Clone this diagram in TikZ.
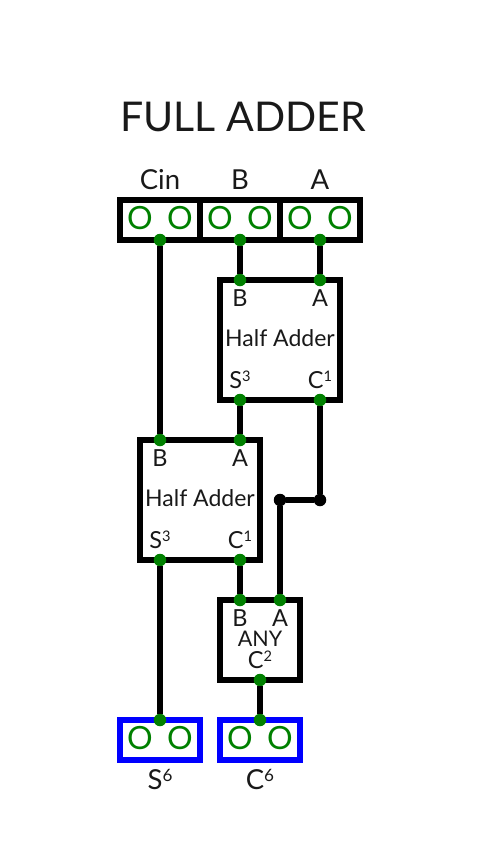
\documentclass[tikz,border=0pt]{standalone}
\usepackage{graphicx}
\usepackage{fontspec}
\setmainfont{Lato}
\newcommand{\upnum}[1]{\raisebox{0.29em}{\scalebox{0.62}{#1}}}
\tikzset{
    pindot/.style={circle, fill=green!50!black, inner sep=0pt, minimum size=12.5pt},
    joint/.style={circle, fill=black, inner sep=0pt, minimum size=12.5pt},
    wire/.style={line width=6pt},
    chip/.style={draw, line width=6pt, minimum width=120pt, minimum height=120pt, inner sep=0pt},
    cell/.style={draw, line width=6pt, minimum width=80pt, minimum height=40pt, inner sep=0pt},
    outcell/.style={cell, draw=blue},
    caption/.style={anchor=base, inner sep=0pt, text=black!90},
    bit/.style={anchor=base, inner sep=0pt, text=green!50!black, font=\fontsize{32}{32}\selectfont},
    bigtext/.style={caption, font=\fontsize{27.5}{28}\selectfont},
    smalltext/.style={caption, font=\fontsize{23.5}{24}\selectfont},
    chipname/.style={caption, font=\fontsize{23}{23}\selectfont}
}
\begin{document}
\begin{tikzpicture}[x=1pt, y=-1pt]
    \useasboundingbox (0,0) rectangle (487,860);
    % Title
    \node[caption, font=\fontsize{41}{41}\selectfont] (title) at (243,131) {FULL ADDER};

    % Input cells
    \node[cell] (cincell) at (160,220) {};
    \node[cell] (bcell) at (240,220) {};
    \node[cell] (acell) at (320,220) {};
    \node[bigtext] (cinlabel) at (160,189) {Cin};
    \node[bigtext] (blabel) at (240,189) {B};
    \node[bigtext] (alabel) at (320,189) {A};
    \node[bit] (cinzero) at (140,229) {O};
    \node[bit] (cinone) at (180,229) {O};
    \node[bit] (bzero) at (220,229) {O};
    \node[bit] (bone) at (260,229) {O};
    \node[bit] (azero) at (300,229) {O};
    \node[bit] (aone) at (340,229) {O};

    % Half adders and ANY
    \node[chip] (upper) at (280,340) {};
    \node[chip] (lower) at (200,500) {};
    \node[chip, minimum width=80pt, minimum height=80pt] (any) at (260,640) {};

    \node[smalltext] (upperb) at (240,306) {B};
    \node[smalltext] (uppera) at (320,306) {A};
    \node[chipname] (uppername) at (280,346) {Half Adder};
    \node[smalltext] (uppers) at (240,388) {S\upnum{3}};
    \node[smalltext] (upperc) at (320,388) {C\upnum{1}};

    \node[smalltext] (lowerb) at (160,466) {B};
    \node[smalltext] (lowera) at (240,466) {A};
    \node[chipname] (lowername) at (200,506) {Half Adder};
    \node[smalltext] (lowers) at (160,548) {S\upnum{3}};
    \node[smalltext] (lowerc) at (240,548) {C\upnum{1}};

    \node[smalltext] (anyb) at (240,626) {B};
    \node[smalltext] (anya) at (280,626) {A};
    \node[smalltext, font=\fontsize{21.5}{22}\selectfont] (anyname) at (260,646) {ANY};
    \node[smalltext] (anyc) at (260,668) {C\upnum{2}};

    % Output cells
    \node[outcell] (scell) at (160,740) {};
    \node[outcell] (ccell) at (260,740) {};
    \node[bit] (szero) at (140,749) {O};
    \node[bit] (sone) at (180,749) {O};
    \node[bit] (czero) at (240,749) {O};
    \node[bit] (cone) at (280,749) {O};
    \node[bigtext] (slabel) at (160,789) {S\upnum{6}};
    \node[bigtext] (clabel) at (260,789) {C\upnum{6}};

    % Pins
    \node[pindot] (cinout) at (160,240) {};
    \node[pindot] (bout) at (240,240) {};
    \node[pindot] (aout) at (320,240) {};
    \node[pindot] (upperbin) at (240,280) {};
    \node[pindot] (upperain) at (320,280) {};
    \node[pindot] (uppersout) at (240,400) {};
    \node[pindot] (uppercout) at (320,400) {};
    \node[pindot] (lowerbin) at (160,440) {};
    \node[pindot] (lowerain) at (240,440) {};
    \node[pindot] (lowersout) at (160,560) {};
    \node[pindot] (lowercout) at (240,560) {};
    \node[pindot] (anybin) at (240,600) {};
    \node[pindot] (anyain) at (280,600) {};
    \node[pindot] (anyout) at (260,680) {};
    \node[pindot] (sin) at (160,720) {};
    \node[pindot] (cin) at (260,720) {};
    \node[joint] (jointr) at (320,500) {};
    \node[joint] (jointl) at (280,500) {};

    % Wires
    \draw[wire] (cinout) -- (lowerbin);
    \draw[wire] (bout) -- (upperbin);
    \draw[wire] (aout) -- (upperain);
    \draw[wire] (uppersout) -- (lowerain);
    \draw[wire] (uppercout) -- (jointr);
    \draw[wire] (jointr) -- (jointl);
    \draw[wire] (jointl) -- (anyain);
    \draw[wire] (lowercout) -- (anybin);
    \draw[wire] (lowersout) -- (sin);
    \draw[wire] (anyout) -- (cin);
\end{tikzpicture}
\end{document}
